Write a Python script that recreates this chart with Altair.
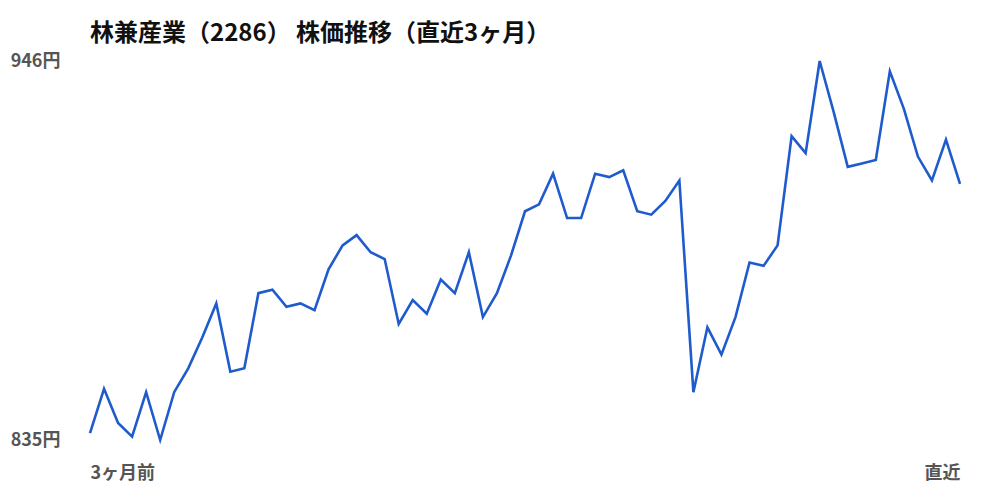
import altair as alt
import pandas as pd

prices = [
    837, 850, 840, 836, 849, 835, 849, 856, 865, 875,
    855, 856, 878, 879, 874, 875, 873, 885, 892, 895,
    890, 888, 869, 876, 872, 882, 878, 890, 871, 878,
    889, 902, 904, 913, 900, 900, 913, 912, 914, 902,
    901, 905, 911, 849, 868, 860, 871, 887, 886, 892,
    924, 919, 946, 931, 915, 916, 917, 943, 932, 918,
    911, 923, 910,
]
days = list(range(len(prices)))
y_ticks = [835, 946]
x_ticks = [0, len(prices) - 1]
x_labels = ["3ヶ月前", "直近"]
title_text = "林兼産業（2286） 株価推移（直近3ヶ月）"

df = pd.DataFrame({"day": days, "price": prices})

FONT = "Noto Sans CJK JP"

chart = (
    alt.Chart(df)
    .mark_line(color="#1f5bcc", strokeWidth=2.6, strokeJoin="miter")
    .encode(
        x=alt.X(
            "day:Q",
            scale=alt.Scale(domain=[0, len(prices) - 1], nice=False, zero=False),
            axis=alt.Axis(
                values=x_ticks,
                labelExpr=f"datum.value == 0 ? '{x_labels[0]}' : '{x_labels[1]}'",
                labelFlush=True,
                ticks=False,
                domain=False,
                grid=False,
                title=None,
                labelFont=FONT,
                labelFontSize=18,
                labelFontWeight="bold",
                labelColor="#555555",
                labelPadding=24,
            ),
        ),
        y=alt.Y(
            "price:Q",
            scale=alt.Scale(domain=[835, 946], nice=False, zero=False),
            axis=alt.Axis(
                values=y_ticks,
                labelExpr="datum.value + '円'",
                ticks=False,
                domain=False,
                grid=False,
                title=None,
                labelFont=FONT,
                labelFontSize=18,
                labelFontWeight="bold",
                labelColor="#555555",
                labelPadding=30,
            ),
        ),
    )
    .properties(
        width=870,
        height=379,
        title=alt.TitleParams(
            text=title_text,
            anchor="start",
            frame="group",
            font=FONT,
            fontSize=24,
            fontWeight="bold",
            color="#111111",
            offset=6,
        ),
        autosize=alt.AutoSizeParams(type="none"),
        padding={"left": 82, "top": 53, "right": 30, "bottom": 50},
    )
    .configure_view(stroke=None)
)

chart.save("out.html", embed_options={"renderer": "svg", "actions": False})
